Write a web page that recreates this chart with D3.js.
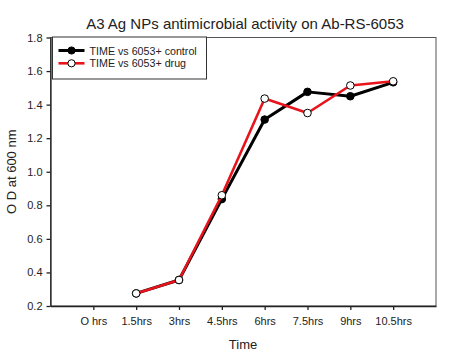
<!DOCTYPE html>
<html>
<head>
<meta charset="utf-8">
<script src="https://cdn.jsdelivr.net/npm/d3@7"></script>
<style>
  body { margin: 0; background: #fff; }
  text { font-family: "Liberation Sans", Arial, sans-serif; fill: #222; }
</style>
</head>
<body>
<div id="chart"></div>
<script>
// categories and series values
const timeLabels = ["O hrs", "1.5hrs", "3hrs", "4.5hrs", "6hrs", "7.5hrs", "9hrs", "10.5hrs"];
const controlValues = [null, 0.275, 0.355, 0.837, 1.311, 1.476, 1.450, 1.533];
const drugValues = [null, 0.275, 0.355, 0.860, 1.436, 1.350, 1.514, 1.539];
const yTicks = [0.2, 0.4, 0.6, 0.8, 1.0, 1.2, 1.4, 1.6, 1.8];

const width = 472, height = 354;
const margin = { left: 50.5, right: 36, top: 37.5, bottom: 48 };
const plot_width = width - margin.left - margin.right;
const plot_height = height - margin.top - margin.bottom;

const svg = d3.select("#chart")
    .append("svg")
    .attr("width", width)
    .attr("height", height);

const g = svg.append("g")
    .attr("transform", `translate(${margin.left}, ${margin.top})`);

// x: one slot of padding on each side of the 8 time points
const xScale = d3.scaleLinear().domain([-1, timeLabels.length]).range([0, plot_width]);
const yScale = d3.scaleLinear().domain([0.2, 1.8]).range([plot_height, 0]);

// frame (top and right)
g.append("rect")
    .attr("width", plot_width)
    .attr("height", plot_height)
    .attr("fill", "none")
    .attr("stroke", "#555")
    .attr("stroke-width", 1);

// axes
const xAxis = d3.axisBottom(xScale)
    .tickValues(d3.range(timeLabels.length))
    .tickFormat(i => timeLabels[i])
    .tickSize(4)
    .tickSizeOuter(0);
const yAxis = d3.axisLeft(yScale)
    .tickValues(yTicks)
    .tickFormat(d3.format(".1f"))
    .tickSize(4)
    .tickSizeOuter(0);

const gx = g.append("g").attr("transform", `translate(0, ${plot_height})`).call(xAxis);
const gy = g.append("g").call(yAxis);
[gx, gy].forEach(a => {
    a.selectAll("path, line").attr("stroke", "#222").attr("stroke-width", 1.3);
    a.selectAll("text").style("font-size", "11px").style("fill", "#222");
});
gx.selectAll("text").attr("dy", "1.05em");
gy.selectAll("text").attr("x", -8);

// lines
function drawSeries(values, color, filled, lw) {
    const pts = values.map((v, i) => ({ i, v })).filter(d => d.v !== null);
    const line = d3.line().x(d => xScale(d.i)).y(d => yScale(d.v));
    g.append("path")
        .datum(pts)
        .attr("d", line)
        .attr("fill", "none")
        .attr("stroke", color)
        .attr("stroke-width", lw)
        .attr("stroke-linejoin", "round");
    g.selectAll(null)
        .data(pts)
        .enter()
        .append("circle")
        .attr("cx", d => xScale(d.i))
        .attr("cy", d => yScale(d.v))
        .attr("r", 3.8)
        .attr("fill", filled ? "#000" : "#fff")
        .attr("stroke", "#000")
        .attr("stroke-width", 1);
}
drawSeries(controlValues, "#000", true, 3);
drawSeries(drugValues, "#e8141c", false, 2.6);

// legend
const legend = g.append("g").attr("transform", "translate(2, -0.5)");
legend.append("rect")
    .attr("width", 154)
    .attr("height", 42)
    .attr("fill", "#fff")
    .attr("stroke", "#333")
    .attr("stroke-width", 1);
const legendItems = [
    { label: "TIME vs 6053+ control", color: "#000", filled: true, lw: 3 },
    { label: "TIME vs 6053+ drug", color: "#e8141c", filled: false, lw: 2.6 }
];
legendItems.forEach((d, k) => {
    const y = 13.5 + k * 12.8;
    legend.append("line")
        .attr("x1", 6).attr("x2", 32).attr("y1", y).attr("y2", y)
        .attr("stroke", d.color).attr("stroke-width", d.lw);
    legend.append("circle")
        .attr("cx", 19).attr("cy", y).attr("r", 3.6)
        .attr("fill", d.filled ? "#000" : "#fff")
        .attr("stroke", "#000");
    legend.append("text")
        .attr("x", 37).attr("y", y + 4)
        .style("font-size", "10.7px")
        .text(d.label);
});

// title and axis labels
svg.append("text")
    .attr("x", 245).attr("y", 29)
    .attr("text-anchor", "middle")
    .style("font-size", "15px")
    .text("A3 Ag NPs antimicrobial activity on Ab-RS-6053");

svg.append("text")
    .attr("x", 243).attr("y", 349)
    .attr("text-anchor", "middle")
    .style("font-size", "13px")
    .text("Time");

svg.append("text")
    .attr("transform", `translate(16, ${margin.top + plot_height / 2}) rotate(-90)`)
    .attr("text-anchor", "middle")
    .style("font-size", "13px")
    .text("O D at 600 nm");
</script>
</body>
</html>
